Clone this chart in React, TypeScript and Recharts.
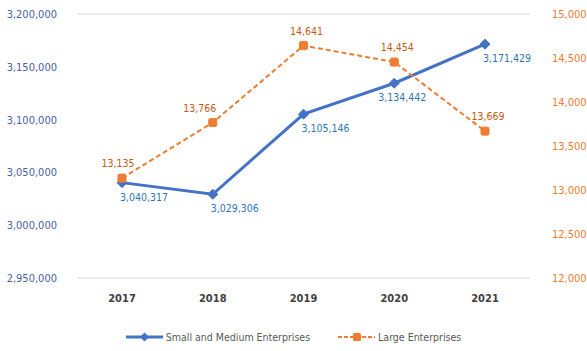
import React from "react";
import { LineChart, Line, XAxis, YAxis, CartesianGrid, LabelList } from "recharts";

document.body.style.margin = "0";

const years = ["2017", "2018", "2019", "2020", "2021"];
const smeValues = [3040317, 3029306, 3105146, 3134442, 3171429];
const largeValues = [13135, 13766, 14641, 14454, 13669];
const leftTicks = [2950000, 3000000, 3050000, 3100000, 3150000, 3200000];
const rightTicks = [12000, 12500, 13000, 13500, 14000, 14500, 15000];

const SME = "Small and Medium Enterprises";
const LARGE = "Large Enterprises";

const BLUE = "#4472c4";
const ORANGE = "#ed7d31";
const FONT = "'DejaVu Sans Condensed', 'Liberation Sans Narrow', sans-serif";

const data = years.map((y, i) => ({ year: y, sme: smeValues[i], large: largeValues[i] }));

const fmt = (v: number) => v.toLocaleString("en-US");

function Diamond({ cx, cy }: { cx?: number; cy?: number }) {
  if (cx == null || cy == null) return null;
  return <path d={`M${cx},${cy - 5}L${cx + 5},${cy}L${cx},${cy + 5}L${cx - 5},${cy}Z`} fill={BLUE} stroke={BLUE} />;
}

function Square({ cx, cy }: { cx?: number; cy?: number }) {
  if (cx == null || cy == null) return null;
  return <rect x={cx - 4} y={cy - 4} width={8} height={8} rx={1.5} fill={ORANGE} stroke={ORANGE} />;
}

function SmeLabel(props: any) {
  const { x, y, value, index } = props;
  const dx = index === 3 ? -16 : -2;
  return (
    <text x={x + dx} y={y + 18} fill="#2e75b6" fontSize={10.5} fontFamily={FONT} textAnchor="start">
      {fmt(value)}
    </text>
  );
}

function LargeLabel(props: any) {
  const { x, y, value, index } = props;
  const dx = index === 1 ? -13 : index === 0 ? -4 : 3;
  return (
    <text x={x + dx} y={y - 11} fill="#c55a11" fontSize={10.5} fontFamily={FONT} textAnchor="middle">
      {fmt(value)}
    </text>
  );
}

function LegendBox() {
  return (
    <div
      style={{
        position: "absolute", left: 0, top: 331, width: 587,
        display: "flex", justifyContent: "center", gap: 28,
        fontFamily: FONT, fontSize: 10.5, color: "#595959",
      }}
    >
      <div style={{ display: "flex", alignItems: "center" }}>
        <svg width={38} height={10}>
          <line x1={0} y1={5} x2={37} y2={5} stroke={BLUE} strokeWidth={3} />
          <path d="M18.5,0.5L23,5L18.5,9.5L14,5Z" fill={BLUE} />
        </svg>
        <span style={{ marginLeft: 2 }}>{SME}</span>
      </div>
      <div style={{ display: "flex", alignItems: "center" }}>
        <svg width={38} height={10}>
          <line x1={0} y1={5} x2={37} y2={5} stroke={ORANGE} strokeWidth={2} strokeDasharray="4 2" />
          <rect x={15} y={1} width={8} height={8} rx={1.5} fill={ORANGE} />
        </svg>
        <span style={{ marginLeft: 2 }}>{LARGE}</span>
      </div>
    </div>
  );
}

export default function App() {
  return (
    <div style={{ position: "relative", width: 587, height: 351, background: "#fff" }}>
      <LineChart width={587} height={351} data={data} margin={{ top: 14, right: 0, left: 0, bottom: 43 }}>
        <CartesianGrid vertical={false} stroke="#d9d9d9" strokeWidth={1.2} />
        <XAxis
          dataKey="year"
          axisLine={false}
          tickLine={false}
          height={30}
          padding={{ left: 45, right: 45 }}
          tick={{ fontSize: 11, fontWeight: 700, fill: "#404040", fontFamily: FONT }}
          tickMargin={10}
        />
        <YAxis
          yAxisId="left"
          domain={[2950000, 3200000]}
          ticks={leftTicks}
          tickFormatter={fmt}
          axisLine={false}
          tickLine={false}
          width={77}
          tick={{ fontSize: 11, fill: "#4a5fa0", fontFamily: FONT }}
          tickMargin={14}
        />
        <YAxis
          yAxisId="right"
          orientation="right"
          domain={[12000, 15000]}
          ticks={rightTicks}
          tickFormatter={fmt}
          axisLine={false}
          tickLine={false}
          width={57}
          tick={{ fontSize: 11, fill: ORANGE, fontFamily: FONT }}
          tickMargin={16}
        />
        <Line
          yAxisId="left"
          dataKey="sme"
          name={SME}
          stroke={BLUE}
          strokeWidth={3}
          dot={<Diamond />}
          activeDot={false}
          isAnimationActive={false}
        >
          <LabelList dataKey="sme" content={<SmeLabel />} />
        </Line>
        <Line
          yAxisId="right"
          dataKey="large"
          name={LARGE}
          stroke={ORANGE}
          strokeWidth={2}
          strokeDasharray="5 3"
          dot={<Square />}
          activeDot={false}
          isAnimationActive={false}
        >
          <LabelList dataKey="large" content={<LargeLabel />} />
        </Line>
      </LineChart>
      <LegendBox />
    </div>
  );
}
